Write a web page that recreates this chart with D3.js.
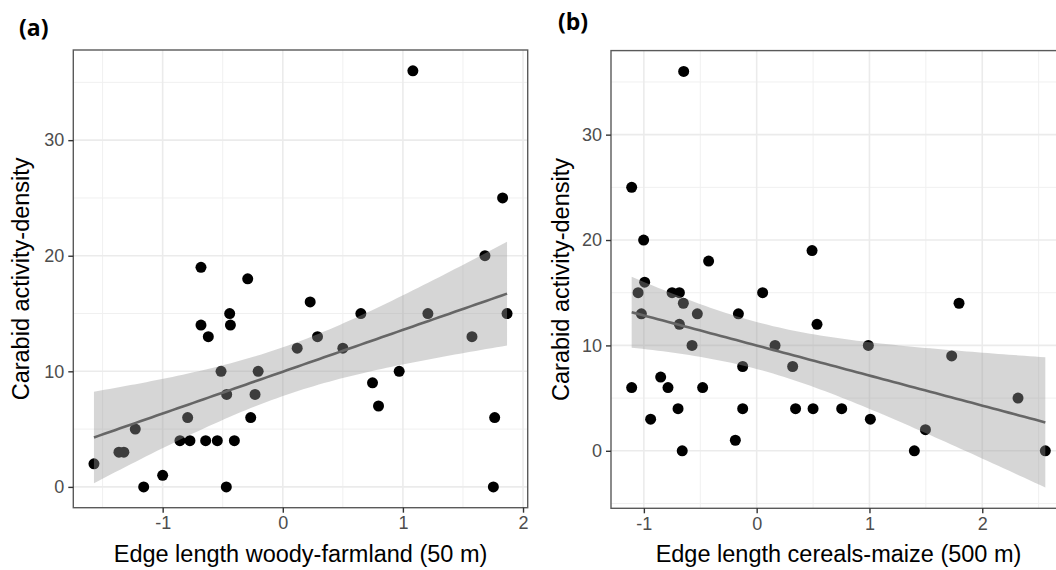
<!DOCTYPE html>
<html>
<head>
<meta charset="utf-8">
<script src="https://cdn.jsdelivr.net/npm/d3@7"></script>
<style>
  html, body { margin: 0; padding: 0; background: #fff; overflow: hidden; }
  svg { display: block; }
</style>
</head>
<body>
<svg id="chart" width="1056" height="570"></svg>
<script>
// ---- Data ----
const xWoody = [-1.572, -1.364, -1.323, -1.228, -1.158, -1.0, -0.856, -0.773, -0.792, -0.681,
                -0.681, -0.642, -0.62, -0.545, -0.514, -0.47, -0.467, -0.442, -0.436, -0.403,
                -0.292, -0.267, -0.231, -0.205, 0.12, 0.228, 0.289, 0.5, 0.65, 0.747,
                0.797, 0.969, 1.083, 1.208, 1.575, 1.683, 1.753, 1.764, 1.83, 1.867];
const yWoody = [2, 3, 3, 5, 0, 1, 4, 4, 6, 19,
                14, 4, 13, 4, 10, 0, 8, 15, 14, 4,
                18, 6, 8, 10, 12, 16, 13, 12, 15, 9,
                7, 10, 36, 15, 13, 20, 0, 6, 25, 15];
const xCereal = [-1.108, -1.108, -1.051, -1.022, -1.002, -0.993, -0.94, -0.851, -0.786, -0.75,
                 -0.697, -0.685, -0.685, -0.66, -0.65, -0.647, -0.573, -0.526, -0.479, -0.426,
                 -0.189, -0.162, -0.124, -0.124, 0.053, 0.163, 0.319, 0.345, 0.491, 0.5,
                 0.535, 0.754, 0.99, 1.008, 1.398, 1.496, 1.729, 1.794, 2.317, 2.559];
const yCereal = [25, 6, 15, 13, 20, 16, 3, 7, 6, 15,
                 4, 15, 12, 0, 14, 36, 10, 13, 6, 18,
                 1, 13, 8, 4, 15, 10, 8, 4, 19, 4,
                 12, 4, 10, 3, 0, 2, 9, 14, 5, 0];
const xTickValues = [-1, 0, 1, 2];
const yTickValues = [0, 10, 20, 30];
const panelLabels = ["(a)", "(b)"];
const xTitles = ["Edge length woody-farmland (50 m)", "Edge length cereals-maize (500 m)"];
const yTitle = "Carabid activity-density";

// ---- Linear model with 95% confidence band (like geom_smooth(method = "lm")) ----
function lmBand(xs, ys, nOut) {
  const n = xs.length;
  const mx = d3.mean(xs), my = d3.mean(ys);
  let sxx = 0, sxy = 0;
  for (let i = 0; i < n; i++) { sxx += (xs[i] - mx) ** 2; sxy += (xs[i] - mx) * (ys[i] - my); }
  const b = sxy / sxx, a = my - b * mx;
  let rss = 0;
  for (let i = 0; i < n; i++) rss += (ys[i] - a - b * xs[i]) ** 2;
  const s = Math.sqrt(rss / (n - 2));
  const t = 2.024394; // qt(0.975, 38)
  const [x0, x1] = d3.extent(xs);
  return d3.range(nOut).map(i => {
    const x = x0 + i * (x1 - x0) / (nOut - 1);
    const fit = a + b * x;
    const se = s * Math.sqrt(1 / n + (x - mx) ** 2 / sxx);
    return { x, fit, lo: fit - t * se, hi: fit + t * se };
  });
}

function expand(lo, hi) { const d = (hi - lo) * 0.05; return [lo - d, hi + d]; }

const svg = d3.select("#chart");
const FONT = "'Liberation Sans', Arial, Helvetica, sans-serif";

const panels = [
  { xs: xWoody, ys: yWoody, left: 73.3, top: 50, width: 454.4, height: 457.7,
    labelX: 19, labelY: 35.5, titleX: 29.3 },
  { xs: xCereal, ys: yCereal, left: 611, top: 50.6, width: 455, height: 457.7,
    labelX: 558, labelY: 29.5, titleX: 568.7 }
];

panels.forEach((p, k) => {
  const band = lmBand(p.xs, p.ys, 80);
  const xDom = expand(...d3.extent(p.xs));
  const yLo = Math.min(d3.min(p.ys), d3.min(band, d => d.lo));
  const yHi = Math.max(d3.max(p.ys), d3.max(band, d => d.hi));
  const yDom = expand(yLo, yHi);

  const x = d3.scaleLinear().domain(xDom).range([p.left, p.left + p.width]);
  const y = d3.scaleLinear().domain(yDom).range([p.top + p.height, p.top]);

  const g = svg.append("g");
  const clipId = "clip" + k;
  g.append("clipPath").attr("id", clipId).append("rect")
    .attr("x", p.left).attr("y", p.top).attr("width", p.width).attr("height", p.height);

  g.append("rect").attr("x", p.left).attr("y", p.top)
    .attr("width", p.width).attr("height", p.height).attr("fill", "#fff");

  // grid
  const xMinor = d3.range(Math.ceil(xDom[0] * 2) / 2, xDom[1], 0.5).filter(v => Math.abs(v % 1) > 0.25);
  const yMinor = d3.range(Math.ceil(yDom[0] / 5) * 5, yDom[1], 5).filter(v => Math.abs(v % 10) > 2.5);
  const grid = g.append("g").attr("clip-path", `url(#${clipId})`);
  grid.selectAll(".vminor").data(xMinor).join("line")
    .attr("x1", d => x(d)).attr("x2", d => x(d)).attr("y1", p.top).attr("y2", p.top + p.height)
    .attr("stroke", "#f0f0f0").attr("stroke-width", 1);
  grid.selectAll(".hminor").data(yMinor).join("line")
    .attr("y1", d => y(d)).attr("y2", d => y(d)).attr("x1", p.left).attr("x2", p.left + p.width)
    .attr("stroke", "#f0f0f0").attr("stroke-width", 1);
  grid.selectAll(".vmajor").data(xTickValues).join("line")
    .attr("x1", d => x(d)).attr("x2", d => x(d)).attr("y1", p.top).attr("y2", p.top + p.height)
    .attr("stroke", "#ebebeb").attr("stroke-width", 1.6);
  grid.selectAll(".hmajor").data(yTickValues).join("line")
    .attr("y1", d => y(d)).attr("y2", d => y(d)).attr("x1", p.left).attr("x2", p.left + p.width)
    .attr("stroke", "#ebebeb").attr("stroke-width", 1.6);

  // points
  const pts = p.xs.map((v, i) => [v, p.ys[i]]);
  g.append("g").selectAll("circle").data(pts).join("circle")
    .attr("cx", d => x(d[0])).attr("cy", d => y(d[1])).attr("r", 5.5).attr("fill", "#000");

  // ribbon + fitted line
  g.append("path").datum(band)
    .attr("d", d3.area().x(d => x(d.x)).y0(d => y(d.lo)).y1(d => y(d.hi)))
    .attr("fill", "#999999").attr("fill-opacity", 0.4);
  g.append("path").datum(band)
    .attr("d", d3.line().x(d => x(d.x)).y(d => y(d.fit)))
    .attr("fill", "none").attr("stroke", "#666666").attr("stroke-width", 2.6);

  // panel border
  g.append("rect").attr("x", p.left).attr("y", p.top)
    .attr("width", p.width).attr("height", p.height)
    .attr("fill", "none").attr("stroke", "#5a5a5a").attr("stroke-width", 1.4);

  // axes
  const xAxis = d3.axisBottom(x).tickValues(xTickValues).tickFormat(d => String(d))
    .tickSize(5).tickPadding(4);
  const yAxis = d3.axisLeft(y).tickValues(yTickValues).tickFormat(d => String(d))
    .tickSize(5).tickPadding(4);
  const ax = g.append("g").attr("transform", `translate(0,${p.top + p.height})`).call(xAxis);
  const ay = g.append("g").attr("transform", `translate(${p.left},0)`).call(yAxis);
  [ax, ay].forEach(a => {
    a.select(".domain").remove();
    a.selectAll(".tick line").attr("stroke", "#333").attr("stroke-width", 1.4);
    a.selectAll(".tick text").attr("fill", "#4d4d4d").style("font-family", FONT).style("font-size", "18px");
  });

  // axis titles
  g.append("text").attr("x", p.left + p.width / 2).attr("y", 561.5)
    .attr("text-anchor", "middle").style("font-family", FONT).style("font-size", "23.5px")
    .attr("fill", "#000").text(xTitles[k]);
  g.append("text")
    .attr("transform", `translate(${p.titleX},${p.top + p.height / 2}) rotate(-90)`)
    .attr("text-anchor", "middle").style("font-family", FONT).style("font-size", "23.5px")
    .attr("fill", "#000").text(yTitle);

  // panel tag
  g.append("text").attr("x", p.labelX).attr("y", p.labelY)
    .style("font-family", "'Open Sans', 'Liberation Sans', sans-serif").style("font-weight", 700)
    .style("font-size", "23px").attr("fill", "#000").text(panelLabels[k]);
});
</script>
</body>
</html>
